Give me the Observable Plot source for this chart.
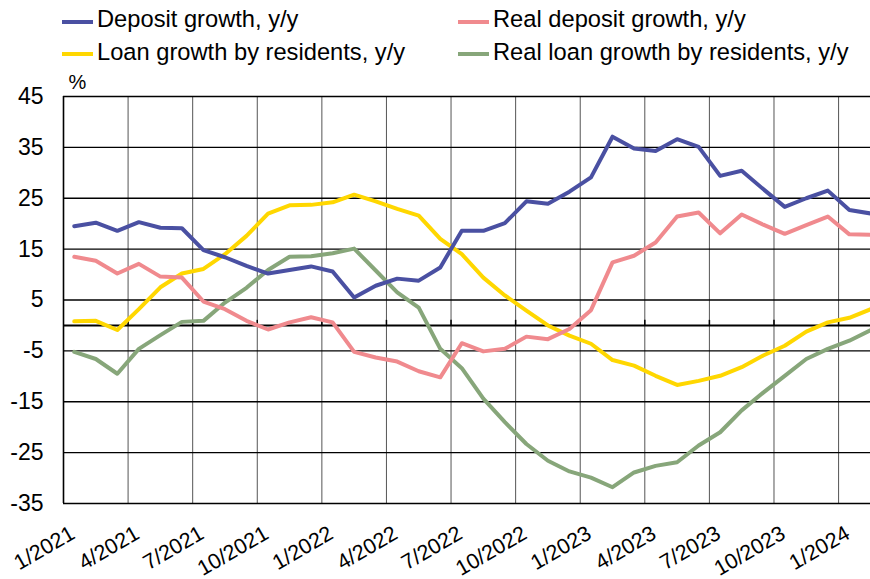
<!DOCTYPE html>
<html><head><meta charset="utf-8">
<script src="https://cdn.jsdelivr.net/npm/d3@7"></script>
<script src="https://cdn.jsdelivr.net/npm/@observablehq/plot@0.6"></script>
<style>
body{margin:0;background:#fff;}
#wrap{position:relative;width:870px;height:579px;font-family:Arial,"Liberation Sans",sans-serif;overflow:hidden;}
.leg{position:absolute;font-size:23.7px;line-height:23.7px;white-space:nowrap;color:#000;}
.sw{position:absolute;height:4px;width:31px;}
</style></head><body>
<div id="wrap"></div>
<script>
const months = ["1/2021","2/2021","3/2021","4/2021","5/2021","6/2021","7/2021","8/2021","9/2021","10/2021","11/2021","12/2021",
  "1/2022","2/2022","3/2022","4/2022","5/2022","6/2022","7/2022","8/2022","9/2022","10/2022","11/2022","12/2022",
  "1/2023","2/2023","3/2023","4/2023","5/2023","6/2023","7/2023","8/2023","9/2023","10/2023","11/2023","12/2023",
  "1/2024","2/2024"];
const tickLabels = ["1/2021","4/2021","7/2021","10/2021","1/2022","4/2022","7/2022","10/2022","1/2023","4/2023","7/2023","10/2023","1/2024"];
const yTicks = [-35,-25,-15,-5,5,15,25,35,45];

const depositGrowth = [19.5,20.2,18.6,20.3,19.2,19.1,14.8,13.4,11.7,10.2,10.9,11.6,
  10.6,5.5,7.8,9.2,8.8,11.4,18.6,18.6,20.1,24.4,23.9,26.3,
  29.1,37.1,34.8,34.3,36.6,35.1,29.4,30.4,26.8,23.3,25.0,26.5,22.7,22.0];
const realDepositGrowth = [13.5,12.7,10.2,12.1,9.6,9.4,4.7,3.2,0.9,-0.8,0.6,1.6,
  0.6,-5.2,-6.3,-7.1,-9.0,-10.2,-3.5,-5.1,-4.6,-2.2,-2.7,-0.7,
  3.0,12.4,13.7,16.3,21.4,22.2,18.1,21.8,19.8,18.0,19.7,21.4,17.9,17.8];
const loanGrowth = [0.8,0.9,-0.9,3.2,7.5,10.2,11.1,14.0,17.6,22.0,23.6,23.7,
  24.2,25.7,24.4,22.9,21.6,17.0,14.0,9.4,5.9,2.9,0.0,-2.0,
  -3.6,-6.8,-7.9,-9.9,-11.7,-10.9,-9.9,-8.2,-5.9,-4.0,-1.2,0.6,1.5,3.2];
const realLoanGrowth = [-5.2,-6.6,-9.5,-4.6,-1.9,0.7,0.9,4.5,7.4,10.9,13.5,13.6,
  14.2,15.1,10.8,6.5,3.5,-4.6,-8.4,-14.4,-19.0,-23.3,-26.6,-28.7,
  -29.9,-31.8,-28.9,-27.6,-26.9,-23.6,-21.0,-16.7,-13.2,-9.9,-6.6,-4.6,-3.0,-0.9];

const seriesNames = ["Deposit growth, y/y","Real deposit growth, y/y","Loan growth by residents, y/y","Real loan growth by residents, y/y"];
const seriesColors = ["#4a50a2","#f08a8e","#ffd700","#87a67a"];
const seriesValues = [depositGrowth, realDepositGrowth, loanGrowth, realLoanGrowth];

const rows = (vals) => vals.map((v, i) => ({i, v}));
const xTickIdx = tickLabels.map(l => months.indexOf(l));
const gridX = xTickIdx.map(i => i - 0.5);
const drawOrder = [2, 3, 1, 0];

const chart = Plot.plot({
  width: 870, height: 579,
  marginLeft: 63, marginTop: 96, marginBottom: 76, marginRight: 0,
  x: {type: "linear", domain: [-0.5, months.length - 0.5], range: [63, 63 + 21.53 * months.length], label: null},
  y: {domain: [-35, 45], label: null},
  style: {fontFamily: "Arial, 'Liberation Sans', sans-serif", background: "#fff", overflow: "hidden"},
  marks: [
    Plot.ruleX(gridX, {stroke: "#555", strokeWidth: 1}),
    Plot.ruleY(yTicks, {stroke: "#000", strokeWidth: 1.4}),
    Plot.ruleX([gridX[0]], {stroke: "#000", strokeWidth: 1.6}),
    Plot.ruleY([0], {stroke: "#000", strokeWidth: 2}),
    Plot.ruleX(gridX.slice(1), {y1: 0, y2: 1, stroke: "#000", strokeWidth: 1.5}),
    ...drawOrder.map(k => Plot.lineY(rows(seriesValues[k]), {x: "i", y: "v", stroke: seriesColors[k], strokeWidth: 4, strokeLinejoin: "round"})),
    Plot.axisY({ticks: yTicks, tickSize: 0, tickPadding: 20, fontSize: 23, tickFormat: d => String(d), label: null}),
    Plot.axisX({ticks: xTickIdx, tickFormat: i => months[i], tickSize: 0, tickRotate: -30, textAnchor: "end", lineAnchor: "bottom", tickPadding: 34, dx: 2, fontSize: 21.5, label: null}),
    Plot.text(["%"], {text: d => d, frameAnchor: "top-left", dx: 5, dy: -8, lineAnchor: "bottom", textAnchor: "start", fontSize: 20})
  ]
});
const wrap = document.getElementById("wrap");
wrap.appendChild(chart);

const legPos = [[62, 0], [458, 0], [62, 1], [458, 1]];
seriesNames.forEach((name, k) => {
  const [x, row] = legPos[k];
  const sw = document.createElement("div");
  sw.className = "sw";
  sw.style.left = x + "px";
  sw.style.top = (19.7 + row * 32.6) + "px";
  sw.style.background = seriesColors[k];
  wrap.appendChild(sw);
  const t = document.createElement("div");
  t.className = "leg";
  t.style.left = (x + 35) + "px";
  t.style.top = (8.2 + row * 32.6) + "px";
  t.textContent = name;
  wrap.appendChild(t);
});
</script>
</body></html>
